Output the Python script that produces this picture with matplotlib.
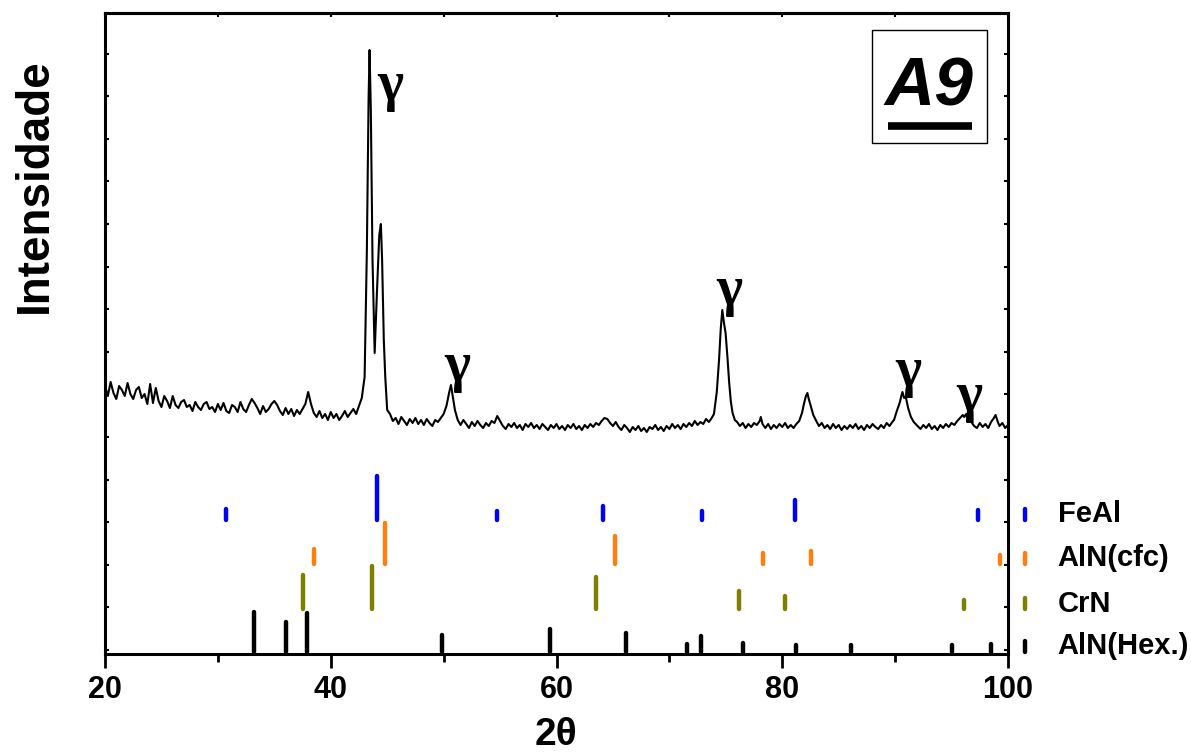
import numpy as np
import matplotlib
matplotlib.use('Agg')
import matplotlib.pyplot as plt
from matplotlib.patches import Rectangle

plt.rcParams['font.family'] = ['Liberation Sans', 'DejaVu Sans']

# XRD pattern (2theta in degrees, intensity in a.u.)
two_theta = [
    20.00, 20.25, 20.50, 20.75, 21.00, 21.25, 21.50, 21.75, 22.00, 22.25, 22.50, 22.75,
    23.00, 23.25, 23.50, 23.75, 24.00, 24.25, 24.50, 24.75, 25.00, 25.25, 25.50, 25.75,
    26.00, 26.25, 26.50, 26.75, 27.00, 27.25, 27.50, 27.75, 28.00, 28.25, 28.50, 28.75,
    29.00, 29.25, 29.50, 29.75, 30.00, 30.25, 30.50, 30.75, 31.00, 31.25, 31.50, 31.75,
    32.00, 32.25, 32.50, 32.75, 33.00, 33.25, 33.50, 33.75, 34.00, 34.25, 34.50, 34.75,
    35.00, 35.25, 35.50, 35.75, 36.00, 36.25, 36.50, 36.75, 37.00, 37.25, 37.50, 37.75,
    38.00, 38.25, 38.50, 38.75, 39.00, 39.25, 39.50, 39.75, 40.00, 40.25, 40.50, 40.75,
    41.00, 41.25, 41.50, 41.75, 42.00, 42.25, 42.50, 42.75,
    43.00, 43.20, 43.35, 43.44, 43.55, 43.70, 43.89, 44.10, 44.30, 44.44, 44.55, 44.70,
    44.83, 45.00,
    45.25, 45.50, 45.75, 46.00, 46.25, 46.50, 46.75, 47.00, 47.25, 47.50, 47.75, 48.00,
    48.25, 48.50, 48.75, 49.00, 49.25, 49.50, 49.75, 50.00, 50.25, 50.50, 50.65, 50.80,
    51.00, 51.25, 51.50, 51.75, 52.00, 52.25, 52.50, 52.75, 53.00, 53.25, 53.50, 53.75,
    54.00, 54.25, 54.50, 54.75, 55.00, 55.25, 55.50, 55.75, 56.00, 56.25, 56.50, 56.75,
    57.00, 57.25, 57.50, 57.75, 58.00, 58.25, 58.50, 58.75, 59.00, 59.25, 59.50, 59.75,
    60.00, 60.25, 60.50, 60.75, 61.00, 61.25, 61.50, 61.75, 62.00, 62.25, 62.50, 62.75,
    63.00, 63.25, 63.50, 63.75, 64.00, 64.25, 64.50, 64.75, 65.00, 65.25, 65.50, 65.75,
    66.00, 66.25, 66.50, 66.75, 67.00, 67.25, 67.50, 67.75, 68.00, 68.25, 68.50, 68.75,
    69.00, 69.25, 69.50, 69.75, 70.00, 70.25, 70.50, 70.75, 71.00, 71.25, 71.50, 71.75,
    72.00, 72.25, 72.50, 72.75, 73.00, 73.25, 73.50, 73.75, 73.95, 74.20, 74.40, 74.55,
    74.69, 74.85, 74.98, 75.15, 75.30, 75.45, 75.60, 75.80, 76.00, 76.25, 76.50, 76.75,
    77.00, 77.25, 77.50, 77.75, 78.00, 78.10, 78.25, 78.50, 78.75, 79.00, 79.25, 79.50,
    79.75, 80.00, 80.25, 80.50, 80.75, 81.00, 81.25, 81.50, 81.75, 81.94, 82.10, 82.23,
    82.35, 82.50, 82.75, 82.97, 83.25, 83.50, 83.75, 84.00, 84.25, 84.50, 84.75, 85.00,
    85.25, 85.50, 85.75, 86.00, 86.25, 86.50, 86.75, 87.00, 87.25, 87.50, 87.75, 88.00,
    88.25, 88.50, 88.75, 89.00, 89.25, 89.50, 89.75, 89.90, 90.15, 90.40, 90.55, 90.65,
    90.80, 90.95, 91.15, 91.40, 91.65, 91.90, 92.25, 92.50, 92.75, 93.00, 93.25, 93.50,
    93.75, 94.00, 94.25, 94.50, 94.75, 95.00, 95.25, 95.50, 95.75, 96.00, 96.12, 96.30,
    96.50, 96.75, 97.00, 97.25, 97.50, 97.75, 98.00, 98.25, 98.50, 98.75, 98.90, 99.10,
    99.25, 99.50, 99.75, 100.00,
]
intensity = [
    268, 258, 272, 261, 255, 268, 264, 258, 271, 260, 255, 264,
    267, 256, 260, 250, 270, 251, 266, 253, 247, 258, 253, 246,
    258, 249, 246, 252, 254, 247, 249, 243, 252, 247, 244, 250,
    252, 245, 247, 242, 250, 244, 251, 243, 241, 249, 247, 242,
    252, 245, 242, 249, 255, 251, 246, 240, 248, 242, 245, 250,
    253, 249, 243, 239, 246, 240, 245, 238, 244, 240, 245, 250,
    262, 250, 241, 237, 243, 236, 240, 234, 242, 236, 240, 234,
    238, 243, 237, 241, 245, 240, 248, 256,
    277, 404, 554, 604, 544, 394, 301, 364, 419, 430, 394, 314,
    277, 244,
    240, 233, 236, 230, 237, 233, 229, 235, 231, 236, 230, 234,
    229, 235, 231, 228, 234, 232, 236, 240, 248, 262, 269, 258,
    244, 234, 229, 234, 230, 226, 232, 228, 233, 229, 226, 231,
    228, 233, 231, 238, 233, 228, 225, 230, 227, 231, 226, 229,
    224, 230, 227, 231, 226, 229, 225, 230, 227, 224, 229, 226,
    230, 225, 228, 224, 229, 226, 230, 225, 228, 224, 229, 226,
    230, 227, 231, 229, 233, 236, 235, 231, 228, 232, 227, 224,
    229, 226, 222, 227, 224, 228, 223, 226, 222, 227, 225, 229,
    224, 227, 223, 228, 225, 230, 226, 229, 225, 230, 227, 231,
    228, 233, 229, 232, 230, 235, 232, 236, 240, 262, 294, 325,
    344, 330, 321, 296, 271, 252, 241, 234, 232, 228, 231, 226,
    230, 227, 231, 229, 233, 237, 230, 226, 230, 225, 229, 226,
    230, 227, 231, 226, 229, 226, 230, 233, 241, 251, 258, 261,
    255, 249, 239, 234, 228, 231, 226, 229, 225, 230, 226, 229,
    224, 228, 225, 229, 226, 230, 225, 228, 224, 229, 226, 230,
    227, 225, 229, 226, 231, 228, 232, 234, 243, 251, 258, 262,
    256, 257, 246, 237, 232, 229, 225, 229, 226, 230, 225, 228,
    224, 229, 226, 230, 227, 231, 229, 233, 236, 239, 237, 240,
    234, 232, 228, 226, 231, 227, 230, 226, 232, 236, 239, 232,
    228, 231, 226, 229,
]

# reference patterns: peak positions and stick heights
feal_pos = [30.73, 44.06, 54.74, 64.10, 72.86, 81.14, 97.37]
feal_h = [15, 48, 13, 18, 13, 24, 14]
aln_cfc_pos = [38.54, 44.80, 65.14, 78.33, 82.58, 99.32]
aln_cfc_h = [19, 45, 32, 15, 17, 13]
crn_pos = [37.56, 43.68, 63.46, 76.17, 80.25, 96.12]
crn_h = [38, 47, 36, 22, 17, 13]
aln_hex_pos = [33.20, 36.02, 37.90, 49.86, 59.40, 66.15, 71.53, 72.77, 76.55, 81.25, 86.10, 95.00, 98.49]
aln_hex_h = [44, 34, 43, 21, 27, 23, 12, 20, 13, 11, 11, 11, 12]

phase_names = ['FeAl', 'AlN(cfc)', 'CrN', 'AlN(Hex.)']
gamma_pos = [45.28, 51.19, 75.28, 91.17, 96.54]
gamma_top = [594, 313, 389, 308, 283]

fig = plt.figure(figsize=(11.91, 7.53), dpi=100)
ax = fig.add_axes([105 / 1191, 1 - 654 / 753, 903 / 1191, 641 / 753])

ax.plot(two_theta, intensity, color='black', lw=1.5)

# stick patterns stacked below the measured pattern
phases = [
    (feal_pos, feal_h, 132, '#0000ff'),
    (aln_cfc_pos, aln_cfc_h, 88, '#ff7f0e'),
    (crn_pos, crn_h, 43, '#808000'),
    (aln_hex_pos, aln_hex_h, 0, 'black'),
]
for (pos, h, base, col), name in zip(phases, phase_names):
    tops = [base + v - 2 for v in h]
    lc = ax.vlines(pos, base + 2, tops, colors=col, lw=3.2)
    lc.set_capstyle('round')
    # legend mark + label outside the frame
    lm = ax.vlines([101.5], base + 2, base + 13, colors=col, lw=3.2, clip_on=False)
    lm.set_capstyle('round')
    ax.text(104.4, base + 7.5, name, fontsize=21, fontweight='bold',
            ha='left', va='center', clip_on=False)

for gx, gy in zip(gamma_pos, gamma_top):
    ax.text(gx, gy, 'γ', fontsize=40, fontweight='bold', family='Liberation Serif',
            ha='center', va='top')

# sample tag box
ax.add_patch(Rectangle((87.94, 511), 10.2, 113, fill=False, lw=1.0, ec='black'))
ax.text(93.0, 567, 'A9', fontsize=50, fontweight='bold', style='italic',
        ha='center', va='center')
ax.plot([89.4, 96.8], [528, 528], color='black', lw=5.5, solid_capstyle='butt')

ax.set_xlim(20, 100)
ax.set_ylim(0, 641)
ax.set_xticks([20, 40, 60, 80, 100])
ax.set_xticks([30, 50, 70, 90], minor=True)
ax.set_yticks(np.arange(4, 641, 42.6))
ax.tick_params(axis='x', which='major', direction='out', length=10, width=2,
               labelsize=22, pad=5, top=False)
ax.tick_params(axis='x', which='minor', direction='out', length=6, width=2, top=False)
ax.tick_params(axis='y', which='both', direction='in', length=3, width=1.5,
               left=True, right=True, labelleft=False)
for lab in ax.get_xticklabels():
    lab.set_fontweight('bold')
for s in ax.spines.values():
    s.set_linewidth(2.2)

# small inward ticks on the top frame
top = ax.secondary_xaxis('top')
top.set_xticks([20, 30, 40, 50, 60, 70, 80, 90, 100])
top.tick_params(direction='in', length=3, width=1.5, labeltop=False)
top.spines['top'].set_linewidth(2.2)

fig.text(556 / 1191, 1 - 735 / 753, '2θ', fontsize=28, fontweight='bold',
         ha='center', va='center')
fig.text(35 / 1191, 1 - 186 / 753, 'Intensidade', fontsize=33, fontweight='bold',
         rotation=90, ha='center', va='center')

fig.savefig('out.png', dpi=100)
